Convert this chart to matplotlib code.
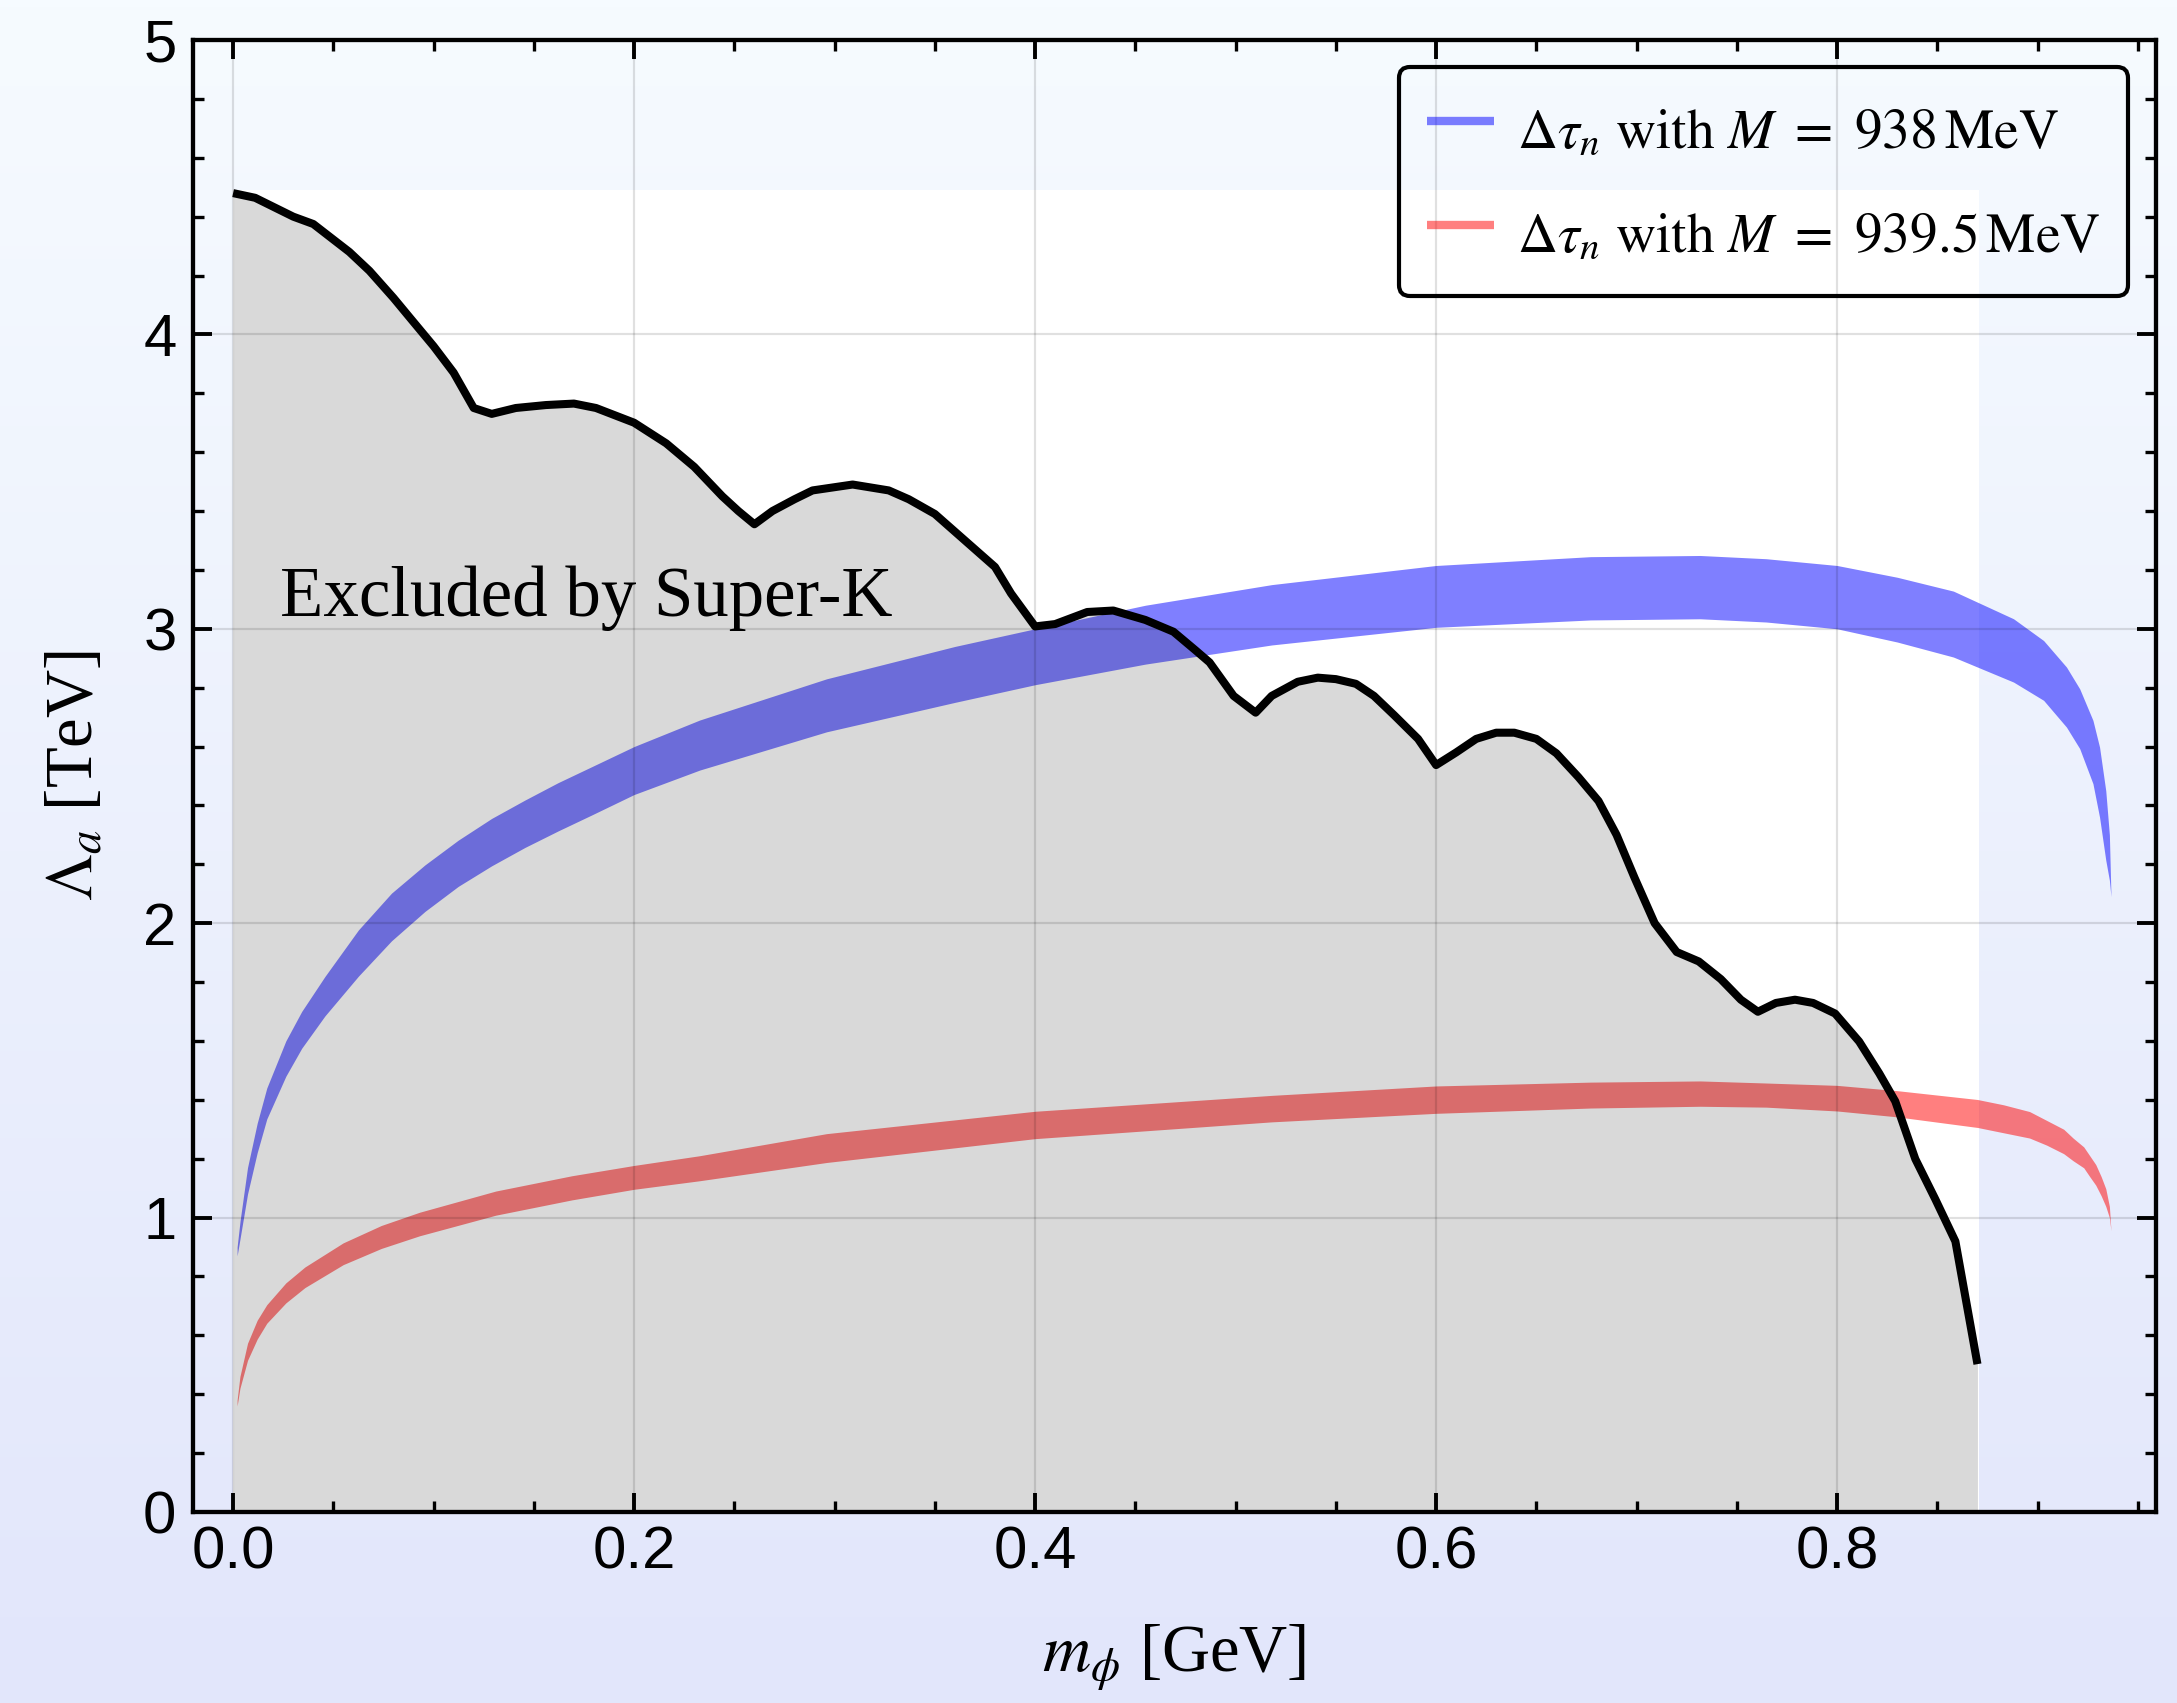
import numpy as np
import matplotlib
matplotlib.use("Agg")
import matplotlib.pyplot as plt
from matplotlib.lines import Line2D
from matplotlib.patches import Rectangle

plt.rcParams['mathtext.fontset'] = 'stix'

# Super-K exclusion boundary (m_phi [GeV], Lambda_a [TeV])
sk_x = [0.0, 0.011, 0.030, 0.040, 0.058, 0.068, 0.080, 0.089, 0.10, 0.11, 0.12, 0.129,
        0.141, 0.156, 0.170, 0.181, 0.200, 0.216, 0.230, 0.244, 0.252, 0.260, 0.269, 0.280,
        0.289, 0.309, 0.327, 0.337, 0.350, 0.369, 0.380, 0.388, 0.400, 0.410, 0.426, 0.439,
        0.455, 0.469, 0.480, 0.487, 0.499, 0.510, 0.518, 0.531, 0.541, 0.550, 0.560, 0.569,
        0.579, 0.591, 0.600, 0.610, 0.620, 0.630, 0.639, 0.650, 0.660, 0.671, 0.681, 0.690,
        0.699, 0.709, 0.720, 0.731, 0.742, 0.752, 0.7605, 0.7695, 0.779, 0.788, 0.799, 0.811,
        0.821, 0.829, 0.839, 0.849, 0.859, 0.870]
sk_y = [4.48, 4.464, 4.40, 4.375, 4.28, 4.216, 4.124, 4.05, 3.96, 3.87, 3.75, 3.73,
        3.75, 3.76, 3.765, 3.75, 3.70, 3.63, 3.55, 3.45, 3.40, 3.355, 3.40, 3.44,
        3.47, 3.49, 3.47, 3.44, 3.39, 3.276, 3.21, 3.12, 3.008, 3.016, 3.057, 3.062,
        3.03, 2.99, 2.927, 2.886, 2.772, 2.715, 2.772, 2.82, 2.834, 2.829, 2.813, 2.772,
        2.707, 2.626, 2.537, 2.58, 2.626, 2.647, 2.647, 2.626, 2.577, 2.496, 2.415, 2.30,
        2.154, 2.0, 1.902, 1.87, 1.81, 1.74, 1.699, 1.729, 1.74, 1.729, 1.693, 1.598,
        1.49, 1.395, 1.199, 1.062, 0.919, 0.502]

# band for M = 938 MeV
blue_x = [0.002, 0.0035, 0.0072, 0.012, 0.0168, 0.0263, 0.0342, 0.0458, 0.0625, 0.079,
          0.0957, 0.1123, 0.129, 0.1455, 0.162, 0.1787, 0.2, 0.2327, 0.296, 0.36, 0.4,
          0.455, 0.518, 0.6, 0.677, 0.7317, 0.7646, 0.8, 0.83, 0.858, 0.888, 0.903,
          0.9144, 0.921, 0.9276, 0.9309, 0.934, 0.9358, 0.9366]
blue_hi = [0.90, 0.99, 1.17, 1.32, 1.44, 1.60, 1.70, 1.819, 1.977, 2.102,
           2.198, 2.282, 2.356, 2.418, 2.477, 2.531, 2.60, 2.69, 2.83, 2.94, 3.00,
           3.08, 3.15, 3.215, 3.245, 3.249, 3.238, 3.215, 3.175, 3.128, 3.034, 2.96,
           2.87, 2.796, 2.689, 2.598, 2.45, 2.30, 2.09]
blue_lo = [0.87, 0.93, 1.08, 1.22, 1.335, 1.48, 1.575, 1.685, 1.82, 1.94,
           2.04, 2.125, 2.195, 2.257, 2.313, 2.367, 2.437, 2.52, 2.65, 2.75, 2.81,
           2.88, 2.945, 3.005, 3.03, 3.034, 3.023, 3.0, 2.955, 2.904, 2.819, 2.757,
           2.666, 2.593, 2.474, 2.36, 2.214, 2.146, 2.09]

# band for M = 939.5 MeV
red_x = [0.002, 0.0034, 0.0072, 0.012, 0.0168, 0.0263, 0.0358, 0.0549, 0.0739, 0.093,
         0.131, 0.169, 0.2, 0.2327, 0.296, 0.4, 0.518, 0.6, 0.677, 0.7317, 0.7646, 0.8,
         0.83, 0.87, 0.883, 0.896, 0.9045, 0.913, 0.9177, 0.923, 0.926, 0.929, 0.9317,
         0.934, 0.9358, 0.9366]
red_hi = [0.38, 0.46, 0.573, 0.651, 0.704, 0.778, 0.832, 0.914, 0.973, 1.018,
          1.09, 1.142, 1.177, 1.21, 1.285, 1.361, 1.415, 1.447, 1.46, 1.464, 1.457, 1.449,
          1.431, 1.401, 1.383, 1.36, 1.33, 1.30, 1.27, 1.24, 1.21, 1.18, 1.139,
          1.098, 1.038, 0.955]
red_lo = [0.36, 0.42, 0.515, 0.587, 0.641, 0.71, 0.762, 0.84, 0.895, 0.938,
          1.008, 1.06, 1.096, 1.125, 1.187, 1.268, 1.325, 1.354, 1.372, 1.378, 1.375, 1.362,
          1.342, 1.306, 1.288, 1.27, 1.246, 1.217, 1.193, 1.169, 1.139, 1.11, 1.074,
          1.038, 1.0, 0.955]

xticks = [0.0, 0.2, 0.4, 0.6, 0.8]
xticklabels = ['0.0', '0.2', '0.4', '0.6', '0.8']
yticks = [0, 1, 2, 3, 4, 5]
labels = [r'$\Delta\tau_n\ \mathrm{with}\ M\ =\ 938\,\mathrm{MeV}$',
          r'$\Delta\tau_n\ \mathrm{with}\ M\ =\ 939.5\,\mathrm{MeV}$']

fig = plt.figure(figsize=(21.77, 17.03), dpi=100)

# gradient background
bg = fig.add_axes([0, 0, 1, 1], zorder=-10)
top = np.array([246, 251, 255]) / 255
bot = np.array([226, 230, 251]) / 255
t = np.linspace(0, 1, 256)[:, None]
grad = top[None, :] * (1 - t) + bot[None, :] * t
bg.imshow(grad[:, None, :], aspect='auto', extent=[0, 1, 0, 1])
bg.axis('off')

ax = fig.add_axes([0.0887, 0.1122, 0.9017, 0.8643])
ax.set_facecolor('none')

ax.add_patch(Rectangle((0, 0), 0.871, 4.49, facecolor='white', edgecolor='none', zorder=0.2))

ax.fill_between(blue_x, blue_lo, blue_hi, color=(0, 0, 1), alpha=0.5, lw=0, zorder=1)
ax.fill_between(red_x, red_lo, red_hi, color=(1, 0, 0), alpha=0.5, lw=0, zorder=1)
ax.fill_between(sk_x, 0, sk_y, color='black', alpha=0.15, lw=0, zorder=1.2)
ax.plot(sk_x, sk_y, color='black', lw=5.8, solid_joinstyle='round',
        solid_capstyle='butt', zorder=3)

ax.text(0.0234, 3.045, 'Excluded by Super-K', family='Liberation Serif', fontsize=51,
        va='baseline', ha='left', zorder=4)

ax.set_xlim(-0.01995, 0.9591)
ax.set_ylim(0, 5)
ax.set_xticks(xticks)
ax.set_xticklabels(xticklabels)
ax.set_yticks(yticks)
ax.set_xticks(np.arange(0, 0.96, 0.05), minor=True)
ax.set_yticks(np.arange(0, 5.01, 0.2), minor=True)
ax.grid(True, which='major', color='black', alpha=0.12, lw=1.6)
ax.set_axisbelow(False)

ax.tick_params(which='both', direction='in', top=True, right=True)
ax.tick_params(which='major', length=13.5, width=2.8, labelsize=43, pad=10)
ax.tick_params(which='minor', length=8, width=2.4)
ax.tick_params(axis='y', which='major', pad=12)
for lab in ax.get_xticklabels() + ax.get_yticklabels():
    lab.set_family('Liberation Sans')
for s in ax.spines.values():
    s.set_linewidth(3.1)

ax.set_xlabel(r'$m_\phi$ [GeV]', family='Liberation Serif', fontsize=48, labelpad=30)
ax.set_ylabel(r'$\Lambda_a$ [TeV]', family='Liberation Serif', fontsize=48, labelpad=26)

handles = [Line2D([], [], color=(0, 0, 1), alpha=0.5, lw=6, solid_capstyle='butt'),
           Line2D([], [], color=(1, 0, 0), alpha=0.5, lw=6, solid_capstyle='butt')]
leg = ax.legend(handles, labels, loc='upper right', bbox_to_anchor=(0.9857, 0.9817),
                borderaxespad=0, fontsize=40, handlelength=1.2, handletextpad=0.42,
                handleheight=1.55, borderpad=0.5, labelspacing=0.62,
                fancybox=True, frameon=True)
leg.get_frame().set_facecolor('none')
leg.get_frame().set_edgecolor('black')
leg.get_frame().set_linewidth(3)
leg.get_frame().set_alpha(None)
leg.set_zorder(5)

fig.savefig('out.png', dpi=100)
